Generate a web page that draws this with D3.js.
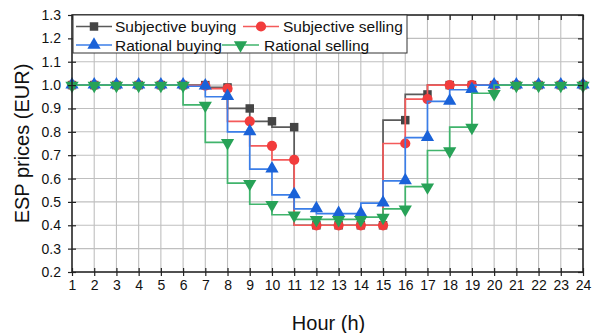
<!DOCTYPE html>
<html>
<head>
<meta charset="utf-8">
<script src="https://cdn.jsdelivr.net/npm/d3@7"></script>
<style>
  html, body { margin: 0; padding: 0; background: #fff; }
  svg { display: block; font-family: "Liberation Sans", Arial, sans-serif; }
</style>
</head>
<body>
<svg id="chart" width="602" height="333"></svg>
<script>
// ---- data ----
const hours = [1,2,3,4,5,6,7,8,9,10,11,12,13,14,15,16,17,18,19,20,21,22,23,24];
const subjectiveBuying  = [1.0,1.0,1.0,1.0,1.0,1.0,1.0,0.99,0.90,0.845,0.82,0.40,0.40,0.40,0.40,0.85,0.96,1.0,1.0,1.0,1.0,1.0,1.0,1.0];
const subjectiveSelling = [1.0,1.0,1.0,1.0,1.0,1.0,0.998,0.985,0.845,0.74,0.68,0.40,0.40,0.40,0.40,0.75,0.94,1.0,1.0,1.0,1.0,1.0,1.0,1.0];
const rationalBuying    = [1.0,1.0,1.0,1.0,1.0,1.0,0.995,0.95,0.80,0.64,0.53,0.47,0.45,0.45,0.495,0.59,0.775,0.93,0.98,1.0,1.0,1.0,1.0,1.0];
const rationalSelling   = [1.0,1.0,1.0,1.0,1.0,1.0,0.915,0.755,0.58,0.49,0.445,0.425,0.425,0.425,0.435,0.47,0.565,0.72,0.82,0.965,1.0,1.0,1.0,1.0];
const seriesNames = ["Subjective buying","Subjective selling","Rational buying","Rational selling"];
const yTicks = [0.2,0.3,0.4,0.5,0.6,0.7,0.8,0.9,1.0,1.1,1.2,1.3];
const xLabel = "Hour (h)";
const yLabel = "ESP prices (EUR)";

// ---- styles ----
const styles = [
  {line:"#5a5a5a", fill:"#444444", symbol:d3.symbolSquare, size:72, rot:0},
  {line:"#f45a5a", fill:"#f23c3c", symbol:d3.symbolCircle, size:82, rot:0},
  {line:"#3b7ee8", fill:"#1a62d8", symbol:d3.symbolTriangle, size:76, rot:0},
  {line:"#40b46c", fill:"#27a257", symbol:d3.symbolTriangle, size:76, rot:180}
];
const seriesValues = [subjectiveBuying, subjectiveSelling, rationalBuying, rationalSelling];

const svg = d3.select("#chart");
const W = 602, H = 333;
const m = {left:72, right:19, top:15, bottom:61};
const x = d3.scaleLinear().domain([1,24]).range([m.left, W - m.right]);
const y = d3.scaleLinear().domain([0.2,1.3]).range([H - m.bottom, m.top]);

// grid
const grid = svg.append("g");
grid.selectAll("line.v").data(hours).enter().append("line")
  .attr("x1", d => x(d)).attr("x2", d => x(d))
  .attr("y1", m.top).attr("y2", H - m.bottom)
  .attr("stroke", "#bfbfbf").attr("stroke-width", 1.1);
grid.selectAll("line.h").data(yTicks).enter().append("line")
  .attr("x1", m.left).attr("x2", W - m.right)
  .attr("y1", d => y(d)).attr("y2", d => y(d))
  .attr("stroke", "#bfbfbf").attr("stroke-width", 1.1);

// series
const lineGen = d3.line().x(d => x(d[0])).y(d => y(d[1])).curve(d3.curveStepBefore);
seriesValues.forEach((vals, i) => {
  const pts = hours.map((h, j) => [h, vals[j]]);
  const st = styles[i];
  const g = svg.append("g");
  g.append("path").datum(pts).attr("d", lineGen)
    .attr("fill", "none").attr("stroke", st.line).attr("stroke-width", 1.7);
  g.selectAll("path.m").data(pts).enter().append("path")
    .attr("d", d3.symbol().type(st.symbol).size(st.size))
    .attr("transform", d => `translate(${x(d[0])},${y(d[1]) + (st.symbol===d3.symbolTriangle ? (st.rot ? 0.5 : -0.5) : 0)}) rotate(${st.rot})`)
    .attr("fill", st.fill);
});

// axes
const axisColor = "#222";
const xb = svg.append("g").attr("transform", `translate(0,${H - m.bottom})`)
  .call(d3.axisBottom(x).tickValues(hours).tickSize(4).tickPadding(4).tickFormat(d3.format("d")));
const yl = svg.append("g").attr("transform", `translate(${m.left},0)`)
  .call(d3.axisLeft(y).tickValues(yTicks).tickSize(4).tickPadding(7).tickFormat(d3.format(".1f")));
const xt = svg.append("g").attr("transform", `translate(0,${m.top})`)
  .call(d3.axisBottom(x).tickValues(hours).tickSize(5).tickFormat(""));
const yr = svg.append("g").attr("transform", `translate(${W - m.right},0)`)
  .call(d3.axisLeft(y).tickValues(yTicks).tickSize(5).tickFormat(""));
const xbIn = svg.append("g").attr("transform", `translate(0,${H - m.bottom})`)
  .call(d3.axisTop(x).tickValues(hours).tickSize(4).tickFormat(""));
const ylIn = svg.append("g").attr("transform", `translate(${m.left},0)`)
  .call(d3.axisRight(y).tickValues(yTicks).tickSize(4).tickFormat(""));

[xb, yl, xt, yr, xbIn, ylIn].forEach(g => {
  g.select(".domain").remove();
  g.selectAll(".tick line").attr("stroke", axisColor).attr("stroke-width", 1.2);
  g.selectAll("text").attr("fill", "#111").style("font-size", "14px")
    .style("font-family", "'Liberation Sans', Arial, sans-serif");
});
svg.append("rect").attr("x", m.left).attr("y", m.top)
  .attr("width", W - m.left - m.right).attr("height", H - m.top - m.bottom)
  .attr("fill", "none").attr("stroke", axisColor).attr("stroke-width", 1.5);

// axis titles
svg.append("text").attr("x", (m.left + W - m.right) / 2 + 1).attr("y", 330)
  .attr("text-anchor", "middle").style("font-size", "20px").attr("fill", "#111").text(xLabel);
svg.append("text").attr("transform", `translate(29,${(m.top + H - m.bottom) / 2}) rotate(-90)`)
  .attr("text-anchor", "middle").style("font-size", "20px").attr("fill", "#111").text(yLabel);

// legend
const lg = svg.append("g");
lg.append("rect").attr("x", m.left + 1).attr("y", m.top).attr("width", 334).attr("height", 38)
  .attr("fill", "#fff").attr("stroke", "#333").attr("stroke-width", 1);
const legendPos = [
  {lx: 76, tx: 115, ty: 26.5, len: 36},
  {lx: 243, tx: 283, ty: 26.5, len: 36},
  {lx: 76, tx: 115, ty: 45, len: 36},
  {lx: 222, tx: 264, ty: 45, len: 37}
];
seriesNames.forEach((name, i) => {
  const p = legendPos[i], st = styles[i];
  lg.append("line").attr("x1", p.lx).attr("x2", p.lx + p.len).attr("y1", p.ty).attr("y2", p.ty)
    .attr("stroke", st.line).attr("stroke-width", 1.7);
  lg.append("path").attr("d", d3.symbol().type(st.symbol).size(st.size))
    .attr("transform", `translate(${p.lx + p.len / 2},${p.ty}) rotate(${st.rot})`).attr("fill", st.fill);
  lg.append("text").attr("x", p.tx).attr("y", p.ty + 5.5).style("font-size", "15.5px")
    .attr("fill", "#111").text(name);
});
</script>
</body>
</html>
